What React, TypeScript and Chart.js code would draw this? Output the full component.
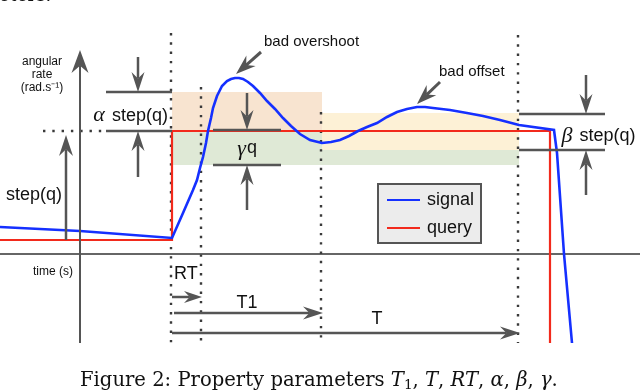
import React, { useEffect, useRef } from "react";
import { Chart, registerables } from "chart.js";
Chart.register(...registerables);

// ---- data (time t, angular rate r) ----
const signalTime = [-172, -92, 0, 11, 21, 25, 28, 31, 34, 36, 39, 41, 45, 50, 55, 59, 63, 67, 71, 76, 81, 88, 95, 103, 111, 119, 128, 138, 150, 159, 168, 177, 186, 195, 205, 215, 225, 235, 245, 253, 261, 278, 295, 311, 328, 347, 382, 385, 392, 400];
const signalRate = [27, 23, 16, 41, 64, 74, 86, 97, 111, 123, 136, 146, 158, 168, 173, 175, 176, 176, 175, 172, 168, 161, 153, 145, 136, 128, 120, 114, 111, 112, 114, 118, 123, 127, 131, 137, 142, 145, 147, 147, 146, 144, 141, 138, 134, 129, 124, 101, 0, -89];
const queryTime = [-172, 0, 0, 378, 378];
const queryRate = [14, 14, 123, 123, -89];
const seriesLabels = ["signal", "query"];
const seriesColors = ["#1530ff", "#f22a1c"];

// parameter markers (time)
const markerTimes = [0, 30, 150, 347];
const markerTops = [221, 167, 142, 219];
const stepLevel = 123;
const lowLevel = 14;
const alphaTop = 162;
const gammaBottom = 89;
const betaTop = 140;
const betaBottom = 104;
const offsetBandTop = 141;

const captionParts: [string, string][] = [
  ["Figure 2: Property parameters ", "r"],
  ["T", "i"], ["1", "s"], [", ", "r"], ["T", "i"], [", ", "r"], ["RT", "i"], [", ", "r"],
  ["α", "i"], [", ", "r"], ["β", "i"], [", ", "r"], ["γ", "i"], [".", "r"],
];

const GREY = "#555555";
const SANS = "'Liberation Sans', Arial, sans-serif";
const SERIF = "'Liberation Serif', 'Times New Roman', serif";
const CAPSERIF = "'DejaVu Serif', serif";

const diagramPlugin = {
  id: "diagram",
  beforeDatasetsDraw(chart: any) {
    const ctx = chart.ctx;
    const X = (t: number) => chart.scales.x.getPixelForValue(t);
    const Y = (r: number) => chart.scales.y.getPixelForValue(r);
    ctx.save();
    const rect = (t0: number, t1: number, r0: number, r1: number, c: string) => {
      ctx.fillStyle = c;
      ctx.fillRect(X(t0), Y(r1), X(t1) - X(t0), Y(r0) - Y(r1));
    };
    rect(markerTimes[0], markerTimes[2], stepLevel, alphaTop, "#f8e4d0");
    rect(markerTimes[0], markerTimes[2], gammaBottom, stepLevel, "#dfe9d6");
    rect(markerTimes[2], markerTimes[3], betaBottom, offsetBandTop, "#fdf1d6");
    rect(markerTimes[2], markerTimes[3], gammaBottom, betaBottom, "#dfe9d6");

    // time axis
    ctx.strokeStyle = "#666";
    ctx.lineWidth = 2;
    ctx.beginPath();
    ctx.moveTo(X(-172), Y(0));
    ctx.lineTo(X(468), Y(0));
    ctx.stroke();

    // dotted markers
    ctx.strokeStyle = "#3a3a3a";
    ctx.lineWidth = 2.4;
    ctx.setLineDash([2.4, 6.9]);
    markerTimes.forEach((t, i) => {
      ctx.beginPath();
      ctx.moveTo(X(t) - 1, Y(markerTops[i]));
      ctx.lineTo(X(t) - 1, Y(-89));
      ctx.stroke();
    });
    ctx.beginPath();
    ctx.moveTo(X(-129), Y(stepLevel));
    ctx.lineTo(X(-66), Y(stepLevel));
    ctx.stroke();
    ctx.setLineDash([]);
    ctx.restore();
  },
  afterDatasetsDraw(chart: any) {
    const ctx = chart.ctx;
    const X = (t: number) => chart.scales.x.getPixelForValue(t);
    const Y = (r: number) => chart.scales.y.getPixelForValue(r);
    ctx.save();

    const line = (t0: number, r0: number, t1: number, r1: number, w = 2.5) => {
      ctx.strokeStyle = GREY;
      ctx.lineWidth = w;
      ctx.beginPath();
      ctx.moveTo(X(t0), Y(r0));
      ctx.lineTo(X(t1), Y(r1));
      ctx.stroke();
    };
    const arrow = (t0: number, r0: number, t1: number, r1: number, L = 20, W = 14, w = 2.5) => {
      const x0 = X(t0), y0 = Y(r0), x1 = X(t1), y1 = Y(r1);
      const d = Math.hypot(x1 - x0, y1 - y0);
      const ux = (x1 - x0) / d, uy = (y1 - y0) / d;
      const nx = -uy, ny = ux;
      const nxp = x1 - ux * L * 0.68, nyp = y1 - uy * L * 0.68;
      ctx.strokeStyle = GREY;
      ctx.fillStyle = GREY;
      ctx.lineWidth = w;
      ctx.beginPath();
      ctx.moveTo(x0, y0);
      ctx.lineTo(nxp, nyp);
      ctx.stroke();
      ctx.beginPath();
      ctx.moveTo(x1, y1);
      ctx.lineTo(x1 - ux * L + nx * W / 2, y1 - uy * L + ny * W / 2);
      ctx.lineTo(nxp, nyp);
      ctx.lineTo(x1 - ux * L - nx * W / 2, y1 - uy * L - ny * W / 2);
      ctx.closePath();
      ctx.fill();
    };
    const text = (s: string, t: number, r: number, font: string, align = "center", color = "#111") => {
      ctx.font = font;
      ctx.fillStyle = color;
      ctx.textAlign = align;
      ctx.textBaseline = "middle";
      ctx.fillText(s, X(t), Y(r));
    };

    // axis arrows
    arrow(-92, -89, -92, 204, 23, 17, 2);
    arrow(-106, lowLevel, -106, 119, 21, 14, 2.5);

    // alpha
    line(-66, alphaTop, 0, alphaTop);
    line(-66, stepLevel, 0, stepLevel);
    arrow(-34, 197, -34, alphaTop, 20, 13);
    arrow(-34, 77, -34, stepLevel, 20, 13);
    // gamma
    line(41, stepLevel + 1, 109, stepLevel + 1);
    line(41, gammaBottom, 109, gammaBottom);
    arrow(75, 161, 75, stepLevel + 1, 20, 13);
    arrow(75, 44, 75, gammaBottom, 20, 13);
    // beta
    line(347, betaTop, 433, betaTop);
    line(347, betaBottom, 433, betaBottom);
    arrow(414, 179, 414, betaTop, 20, 13);
    arrow(414, 59, 414, betaBottom, 20, 13);
    // callouts
    arrow(89, 202, 64, 180, 20, 14, 3);
    arrow(268, 172, 245, 150, 20, 14, 3);
    // time arrows
    arrow(0, -43, 30, -43, 18, 12, 2.5);
    arrow(2, -59, 151, -59, 20, 13, 2.5);
    arrow(0, -79, 348, -79, 20, 13, 2.5);

    // labels
    const small = `12px ${SANS}`;
    text("angular", -130, 192, small);
    text("rate", -130, 179, small);
    text("(rad.s⁻¹)", -130, 166, small);
    text("time (s)", -119, -18, small);
    const mid = `18px ${SANS}`;
    const greek = `italic 22px ${SERIF}`;
    text("step(q)", -4, 138, mid, "right");
    text("α", -73, 139, greek);
    text("step(q)", -138, 59, mid);
    text("γ", 69.5, 105, greek);
    text("q", 80, 106, mid);
    text("β", 395, 118, greek);
    text("step(q)", 435.5, 118, mid);
    text("bad overshoot", 92, 212, `15px ${SANS}`, "left");
    text("bad offset", 267, 182, `15px ${SANS}`, "left");
    text("RT", 2, -20, mid, "left");
    text("T1", 75, -49, mid);
    text("T", 205, -65, mid);

    // legend
    const lx0 = X(206), lx1 = X(309), ly0 = Y(70), ly1 = Y(11);
    ctx.fillStyle = "#ececec";
    ctx.fillRect(lx0, ly0, lx1 - lx0, ly1 - ly0);
    ctx.strokeStyle = "#555";
    ctx.lineWidth = 2;
    ctx.strokeRect(lx0, ly0, lx1 - lx0, ly1 - ly0);
    const rows = [54, 26];
    chart.data.datasets.forEach((ds: any, i: number) => {
      ctx.strokeStyle = ds.borderColor;
      ctx.lineWidth = 2.2;
      ctx.beginPath();
      ctx.moveTo(X(215), Y(rows[i]));
      ctx.lineTo(X(248), Y(rows[i]));
      ctx.stroke();
      text(ds.label, 255, rows[i], mid, "left");
    });

    // caption
    const base = 20;
    const fontFor = (k: string, s: number) =>
      k === "i" ? `italic ${s}px ${CAPSERIF}` : k === "s" ? `${s * 0.7}px ${CAPSERIF}` : `${s}px ${CAPSERIF}`;
    let w = 0;
    captionParts.forEach(([s, k]) => { ctx.font = fontFor(k, base); w += ctx.measureText(s).width; });
    const target = X(386) - X(-92);
    const size = base * target / w;
    let cx = X(-92);
    const cy = Y(-132);
    ctx.fillStyle = "#111";
    ctx.textAlign = "left";
    ctx.textBaseline = "alphabetic";
    captionParts.forEach(([s, k]) => {
      ctx.font = fontFor(k, size);
      ctx.fillText(s, cx, k === "s" ? cy + size * 0.15 : cy);
      cx += ctx.measureText(s).width;
    });
    // clipped line above
    ctx.font = `18px ${CAPSERIF}`;
    ctx.fillText("eters.", X(-173), Y(253));
    ctx.restore();
  },
};

export default function App() {
  const ref = useRef<HTMLCanvasElement>(null);
  useEffect(() => {
    if (!ref.current) return;
    const chart = new Chart(ref.current, {
      type: "line",
      data: {
        datasets: [
          {
            label: seriesLabels[0],
            data: signalTime.map((t, i) => ({ x: t, y: signalRate[i] })),
            borderColor: seriesColors[0],
            borderWidth: 2.6,
            pointRadius: 0,
            tension: 0,
            fill: false,
          },
          {
            label: seriesLabels[1],
            data: queryTime.map((t, i) => ({ x: t, y: queryRate[i] })),
            borderColor: seriesColors[1],
            borderWidth: 2.2,
            pointRadius: 0,
            tension: 0,
            fill: false,
          },
        ],
      },
      options: {
        animation: false,
        responsive: false,
        layout: { padding: 0 },
        plugins: { legend: { display: false }, tooltip: { enabled: false } },
        scales: {
          x: { type: "linear", min: -172, max: 468, display: false },
          y: { type: "linear", min: -137, max: 254, display: false },
        },
      },
      plugins: [diagramPlugin],
    } as any);
    return () => chart.destroy();
  }, []);
  return (
    <div style={{ position: "absolute", left: 0, top: 0, width: 640, height: 391, background: "#fff" }}>
      <canvas ref={ref} width={640} height={391} style={{ display: "block" }} />
    </div>
  );
}
